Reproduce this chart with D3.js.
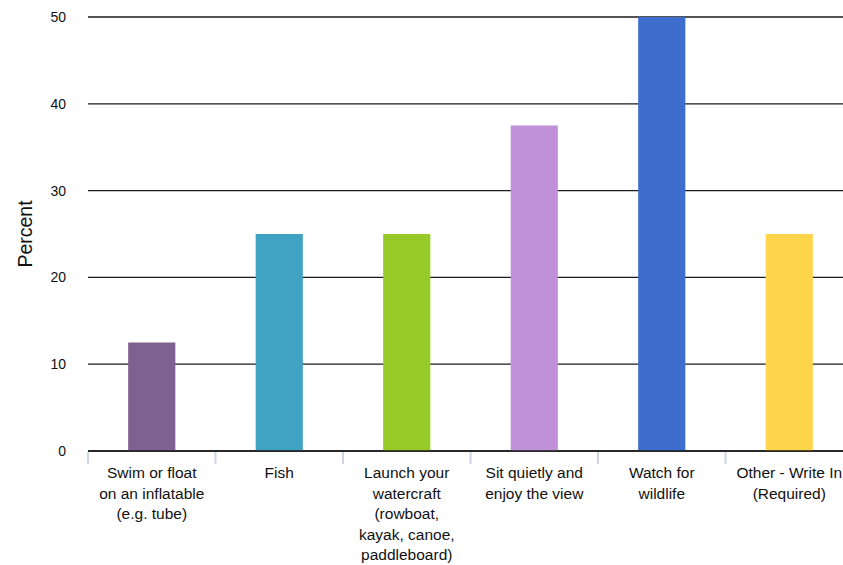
<!DOCTYPE html>
<html>
<head>
<meta charset="utf-8">
<script src="https://cdn.jsdelivr.net/npm/d3@7"></script>
<style>
  body { margin: 0; background: #fff; }
  svg { font-family: "Liberation Sans", Arial, sans-serif; }
</style>
</head>
<body>
<svg width="843" height="565"></svg>
<script>
// Chart data
var categories = [
    ['Swim or float', 'on an inflatable', '(e.g. tube)'],
    ['Fish'],
    ['Launch your', 'watercraft', '(rowboat,', 'kayak, canoe,', 'paddleboard)'],
    ['Sit quietly and', 'enjoy the view'],
    ['Watch for', 'wildlife'],
    ['Other - Write In', '(Required)']
];
var percents = [12.5, 25, 25, 37.5, 50, 25];
var barColors = ['#7e6190', '#41a3c3', '#97c927', '#c090d9', '#3e6ecd', '#fdd44a'];
var yTicks = [0, 10, 20, 30, 40, 50];

var svg = d3.select('svg');
var padding = {t: 17, l: 88};
var chartWidth = 765;
var chartHeight = 434;

var chartG = svg.append('g')
    .attr('transform', 'translate(' + [padding.l, padding.t] + ')');

var x = d3.scaleBand()
    .domain(d3.range(categories.length))
    .range([0, chartWidth])
    .paddingInner(0.63)
    .paddingOuter(0.315);

var y = d3.scaleLinear()
    .domain([0, 50])
    .range([chartHeight, 0]);

// gridlines
chartG.selectAll('.grid')
    .data(yTicks)
    .enter().append('line')
    .attr('class', 'grid')
    .attr('x1', 0)
    .attr('x2', chartWidth)
    .attr('y1', d => y(d))
    .attr('y2', d => y(d))
    .attr('stroke', '#1a1a1a')
    .attr('stroke-width', 1.3);

// y tick labels
chartG.selectAll('.ylabel')
    .data(yTicks)
    .enter().append('text')
    .attr('class', 'ylabel')
    .attr('x', -22)
    .attr('y', d => y(d))
    .attr('dy', '0.35em')
    .attr('text-anchor', 'end')
    .attr('font-size', 14)
    .attr('fill', '#111')
    .text(d => d);

// category separator ticks
var step = x.step();
chartG.selectAll('.sep')
    .data(d3.range(categories.length + 1))
    .enter().append('line')
    .attr('class', 'sep')
    .attr('x1', d => d * step)
    .attr('x2', d => d * step)
    .attr('y1', chartHeight + 1)
    .attr('y2', chartHeight + 13)
    .attr('stroke', '#c9d5e8')
    .attr('stroke-width', 2);

// bars
chartG.selectAll('.bar')
    .data(percents)
    .enter().append('rect')
    .attr('class', 'bar')
    .attr('x', (d, i) => x(i))
    .attr('width', x.bandwidth())
    .attr('y', d => y(d))
    .attr('height', d => chartHeight - y(d))
    .attr('fill', (d, i) => barColors[i]);

// baseline on top of bars
chartG.append('line')
    .attr('x1', 0)
    .attr('x2', chartWidth)
    .attr('y1', y(0))
    .attr('y2', y(0))
    .attr('stroke', '#1a1a1a')
    .attr('stroke-width', 1.3);

// category labels
var labelG = chartG.selectAll('.cat')
    .data(categories)
    .enter().append('text')
    .attr('class', 'cat')
    .attr('text-anchor', 'middle')
    .attr('font-size', 15.5)
    .attr('fill', '#111')
    .attr('transform', (d, i) => 'translate(' + (x(i) + x.bandwidth() / 2) + ',' + (chartHeight + 27) + ')');
labelG.selectAll('tspan')
    .data(d => d)
    .enter().append('tspan')
    .attr('x', 0)
    .attr('y', (d, i) => i * 20.5)
    .text(d => d);

// y axis title
svg.append('text')
    .attr('transform', 'translate(32,' + (padding.t + chartHeight / 2) + ') rotate(-90)')
    .attr('text-anchor', 'middle')
    .attr('font-size', 19.5)
    .attr('fill', '#111')
    .text('Percent');
</script>
</body>
</html>
